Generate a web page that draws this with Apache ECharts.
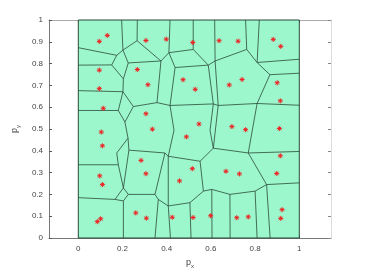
<!DOCTYPE html>
<html><head><meta charset="utf-8">
<script src="https://cdn.jsdelivr.net/npm/echarts@6/dist/echarts.min.js"></script>
<style>html,body{margin:0;padding:0;background:#fff}#c{width:366px;height:274px}</style>
</head><body><div id="c"></div>
<script>
// red sample points
const px = [0.095,0.131,0.306,0.398,0.518,0.637,0.723,0.882,0.916,
            0.095,0.267,0.474,0.095,0.315,0.529,0.683,0.741,0.900,
            0.113,0.306,0.914,
            0.546,0.695,0.757,0.910,0.489,0.104,0.335,0.109,
            0.914,0.284,0.516,0.668,0.729,0.898,0.306,0.458,0.097,0.109,
            0.922,0.916,0.519,0.599,0.717,0.769,0.260,0.308,0.425,0.101,0.086];
const py = [0.902,0.929,0.906,0.912,0.897,0.905,0.903,0.911,0.879,
            0.770,0.773,0.726,0.685,0.703,0.682,0.702,0.727,0.712,
            0.595,0.570,0.629,
            0.523,0.511,0.497,0.502,0.464,0.486,0.499,0.423,
            0.377,0.356,0.318,0.306,0.294,0.296,0.295,0.262,0.285,0.245,
            0.130,0.090,0.094,0.102,0.093,0.097,0.115,0.091,0.095,0.088,0.075];

// Voronoi vertices (data units): [name, x, y]
const nodes = [
  ['tb1',0.196,1],['tb2',0.267,1],['tb3',0.415,1],['tb4',0.520,1],['tb5',0.617,1],['tb6',0.757,1],['tb7',0.819,1],
  ['l1',0,0.873],['l2',0,0.793],['l3',0,0.676],['l4',0,0.585],['l5',0,0.336],['l6',0,0.185],
  ['r1',1,0.820],['r2',1,0.756],['r3',1,0.609],['r4',1,0.397],['r5',1,0.253],
  ['b1',0.204,0],['b2',0.347,0],['b3',0.417,0],['b4',0.510,0],['b5',0.605,0],['b6',0.687,0],['b7',0.809,0],['b8',0.868,0],
  ['J1',0.174,0.838],['J2',0.202,0.862],['A',0.266,0.905],['J3',0.151,0.794],['J4',0.204,0.730],['J5',0.226,0.803],
  ['B',0.374,0.812],['T3',0.410,0.850],['W',0.438,0.782],['T4',0.520,0.865],['V',0.588,0.793],['T5',0.619,0.812],
  ['T6',0.762,0.865],['T7',0.809,0.805],['R1',0.867,0.749],['R2',0.809,0.617],
  ['K1',0.202,0.671],['K3',0.181,0.585],['K4',0.249,0.603],['K5',0.211,0.532],
  ['M0',0.356,0.621],['M2',0.415,0.608],['M3',0.611,0.615],['M4',0.633,0.608],
  ['N15',0.433,0.494],['N1',0.225,0.458],['N2',0.174,0.390],['N3',0.229,0.403],['N4',0.392,0.390],['N13',0.407,0.375],
  ['N5',0.181,0.336],['N7',0.204,0.230],['N8',0.226,0.200],['N9',0.166,0.177],['N10',0.204,0.170],
  ['N11',0.347,0.200],['N12',0.362,0.177],['N14',0.407,0.147],
  ['O1',0.596,0.494],['O2',0.611,0.412],['O4',0.551,0.352],['O5',0.566,0.215],['O6',0.769,0.390],['O7',0.852,0.245],
  ['O8',0.604,0.223],['P1',0.505,0.162],['P2',0.686,0.200],['P3',0.800,0.215]
];
// Voronoi edges as pairs of vertex names
const edges = [
  ['tb1','J2'],['J2','J1'],['J1','l1'],['J1','J3'],['J3','l2'],['J3','J4'],['J4','J5'],['J5','J2'],['J2','A'],
  ['A','tb2'],['A','B'],['J5','B'],['B','T3'],['T3','tb3'],['T3','W'],['T3','T4'],['T4','tb4'],['T4','V'],['W','V'],
  ['V','T5'],['T5','tb5'],['T5','T6'],['T6','tb6'],['T6','T7'],['T7','tb7'],['T7','r1'],['T7','R1'],['R1','r2'],['R1','R2'],
  ['R2','r3'],['J4','K1'],['K1','l3'],['K1','K3'],['K1','K4'],['K3','l4'],['K3','K5'],['K4','K5'],['K4','M0'],['B','M0'],
  ['M0','M2'],['W','M2'],['M2','M3'],['V','M3'],['M3','M4'],['T5','M4'],['M4','R2'],['M2','N15'],['N15','N13'],['N13','N4'],
  ['N4','N3'],['N3','N1'],['N1','K5'],['N1','N2'],['N2','N5'],['N5','l5'],['N5','N7'],['N3','N7'],['N7','N9'],['N9','l6'],
  ['N7','N8'],['N9','N10'],['N8','N10'],['N10','b1'],['N8','N11'],['N4','N11'],['N11','N12'],['N12','b2'],['N12','N14'],
  ['N13','N14'],['N14','b3'],['N14','P1'],['P1','b4'],['P1','O5'],['N13','O4'],['O4','O5'],['O4','O2'],['M3','O1'],['O1','O2'],
  ['M4','O2'],['O2','O6'],['R2','O6'],['O6','r4'],['O6','O7'],['O7','r5'],['O7','b8'],['O5','O8'],['O8','b5'],['O8','P2'],
  ['P2','b6'],['P2','P3'],['P3','b7'],['P3','O7']
];
const domainX = [0, 1];
const domainY = [0, 1];
const yTicks = [0,0.1,0.2,0.3,0.4,0.5,0.6,0.7,0.8,0.9,1];
const xTicks = [0,0.2,0.4,0.6,0.8,1];

const nodeMap = {};
nodes.forEach(n => { nodeMap[n[0]] = [n[1], n[2]]; });
const edgeData = edges.map(e => nodeMap[e[0]].concat(nodeMap[e[1]]));

const lineCol = '#2b4a3a';
const chart = echarts.init(document.getElementById('c'), null, {renderer: 'canvas'});
const lab = {color: '#444', fontSize: 8, fontFamily: 'Liberation Sans, Arial, sans-serif'};
const rich = {p: {fontSize: 9, color: '#444', fontFamily: 'Liberation Sans, Arial'}, s: {fontSize: 6, color: '#444', padding: [6,0,0,0], fontFamily: 'Liberation Sans, Arial'}};
chart.setOption({
  animation: false,
  grid: {left: 49, top: 20, width: 282, height: 221, containLabel: false},
  xAxis: [{
    type: 'value', min: -0.1326, max: 1.1434, position: 'bottom',
    axisLine: {show: true, onZero: false, lineStyle: {color: '#777', width: 1}},
    axisTick: {show: true, inside: true, length: 3, customValues: xTicks, lineStyle: {color: '#555'}},
    axisLabel: Object.assign({customValues: xTicks, margin: 7, formatter: v => String(+v.toFixed(1))}, lab),
    splitLine: {show: false},
    name: '{p|p}{s|x}', nameLocation: 'middle', nameGap: 19, nameTextStyle: {rich: rich}
  }, {
    type: 'value', min: -0.1326, max: 1.1434, position: 'top',
    axisLine: {show: true, onZero: false, lineStyle: {color: '#aaa', width: 1}},
    axisTick: {show: true, inside: true, length: 3, customValues: xTicks, lineStyle: {color: '#555'}},
    axisLabel: {show: false}, splitLine: {show: false}
  }],
  yAxis: [{
    type: 'value', min: 0, max: 1, interval: 0.1, position: 'left',
    axisLine: {show: true, onZero: false, lineStyle: {color: '#777', width: 1}},
    axisTick: {show: true, inside: true, length: 3, lineStyle: {color: '#555'}},
    axisLabel: Object.assign({margin: 6, formatter: v => String(+v.toFixed(1))}, lab),
    splitLine: {show: false},
    name: '{p|p}{s|y}', nameLocation: 'middle', nameGap: 17, nameRotate: 90, nameTextStyle: {rich: rich}
  }, {
    type: 'value', min: 0, max: 1, interval: 0.1, position: 'right',
    axisLine: {show: true, onZero: false, lineStyle: {color: '#ddd', width: 1}},
    axisTick: {show: true, inside: true, length: 3, lineStyle: {color: '#888'}},
    axisLabel: {show: false}, splitLine: {show: false}
  }],
  series: [{
    type: 'custom', coordinateSystem: 'cartesian2d',
    data: [[domainX[0], domainY[0], domainX[1], domainY[1]]],
    renderItem: function (params, api) {
      const p0 = api.coord([api.value(0), api.value(1)]);
      const p1 = api.coord([api.value(2), api.value(3)]);
      return {type: 'rect', shape: {x: p0[0], y: p1[1], width: p1[0] - p0[0], height: p0[1] - p1[1]},
              style: {fill: '#9cf7cc', stroke: lineCol, lineWidth: 1}};
    },
    z: 1
  }, {
    type: 'custom', coordinateSystem: 'cartesian2d',
    data: edgeData,
    renderItem: function (params, api) {
      const a = api.coord([api.value(0), api.value(1)]);
      const b = api.coord([api.value(2), api.value(3)]);
      return {type: 'line', shape: {x1: a[0], y1: a[1], x2: b[0], y2: b[1]},
              style: {stroke: lineCol, lineWidth: 0.8}};
    },
    z: 2
  }, {
    type: 'scatter',
    data: px.map((x, i) => [x, py[i]]),
    symbol: 'path://M0,-5L0,5M-5,0L5,0M-3.5,-3.5L3.5,3.5M-3.5,3.5L3.5,-3.5',
    symbolSize: 5,
    itemStyle: {color: 'rgba(0,0,0,0)', borderColor: '#ee2222', borderWidth: 1, opacity: 1},
    z: 3
  }]
});
</script></body></html>
